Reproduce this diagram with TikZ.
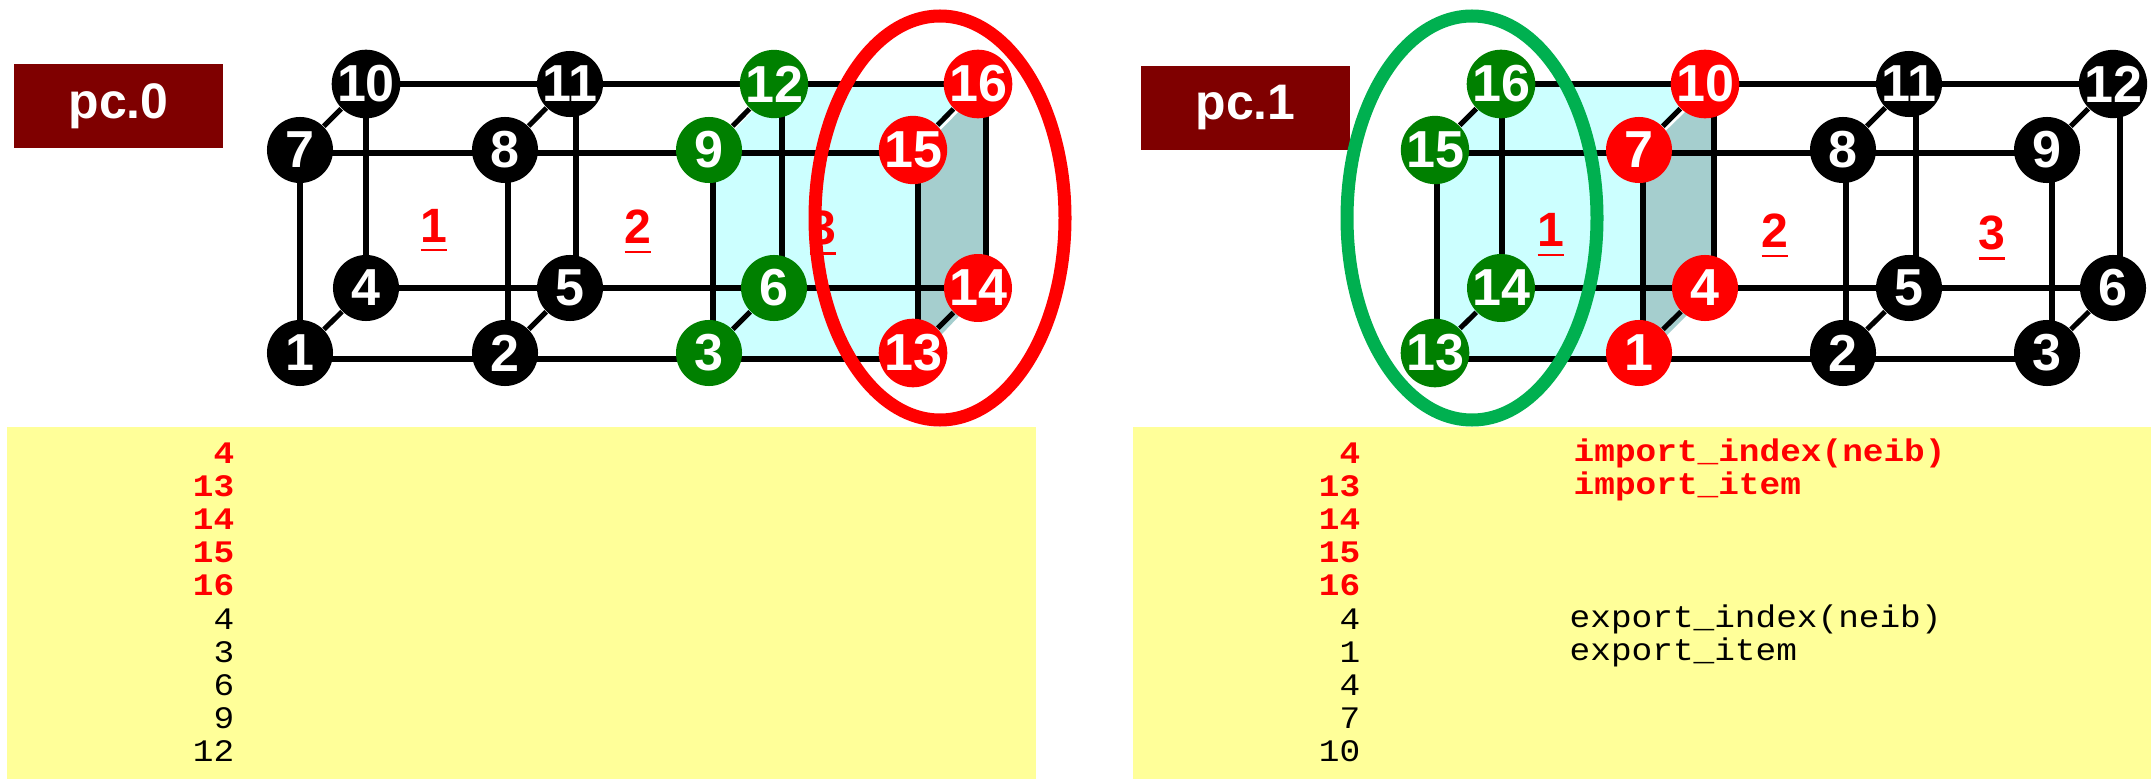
\documentclass[tikz,border=0pt]{standalone}
\usepackage{fontspec}
\setmainfont{Liberation Sans}
\newfontfamily\monofam[FakeStretch=1.10]{Liberation Mono}
\usetikzlibrary{backgrounds}
\definecolor{pcred}{HTML}{7F0000}
\definecolor{tblyel}{HTML}{FFFF99}
\definecolor{cellcy}{HTML}{CCFFFF}
\definecolor{cellgr}{HTML}{A5CECE}
\definecolor{ringgr}{HTML}{00B050}
\definecolor{ndgr}{HTML}{008000}
\newcommand{\ulnum}[1]{\vtop{\hbox{#1}\kern1.9pt\hrule height 0.7pt}}
\tikzset{
  nd/.style={circle,inner sep=0pt,minimum size=0.66cm,text=white,font=\fontsize{14.8}{15}\selectfont\bfseries},
  pc/.style={fill=pcred,text=white,inner sep=0pt,minimum width=2.09cm,minimum height=0.84cm,font=\fontsize{14.2}{15}\selectfont\bfseries},
  cellno/.style={anchor=base,inner sep=0pt,text=red,font=\fontsize{13.7}{15}\selectfont\bfseries},
  edge/.style={line width=0.06cm},
  diag/.style={line width=0.05cm},
  ring/.style={line width=0.13cm},
  tbl/.style={fill=tblyel},
  numb/.style={anchor=east,inner sep=0pt,text=red,font=\monofam\fontsize{8.9}{10}\selectfont\bfseries},
  numn/.style={anchor=east,inner sep=0pt,font=\monofam\fontsize{8.9}{10}\selectfont},
  nameb/.style={anchor=west,inner sep=0pt,text=red,font=\monofam\fontsize{8.9}{10}\selectfont\bfseries},
  namen/.style={anchor=west,inner sep=0pt,font=\monofam\fontsize{8.9}{10}\selectfont}
}
\begin{document}
\begin{tikzpicture}[x=0.01cm,y=-0.01cm]
    \useasboundingbox (0,0) rectangle (2151,779);

    % Yellow tables
    \fill[tbl] (7,427) rectangle (1036,779);
    \fill[tbl] (1133,427) rectangle (2151,779);

    % Banners
    \node[pc] (pc0) at (118.5,106) {pc.0};
    \node[pc] (pc1) at (1245.5,108) {pc.1};

    % Nodes pc.0
    \foreach \n/\x/\y/\c in {1/300/353/black, 2/505/353/black, 3/709/353/ndgr, 13/913/353/red,
                             4/366/288/black, 5/570/288/black, 6/774/288/ndgr, 14/978/288/red,
                             7/300/150/black, 8/505/150/black, 9/709/150/ndgr, 15/913/150/red,
                             10/366/84/black, 11/570/84/black, 12/774/84/ndgr, 16/978/84/red} {
        \node[nd,fill=\c] (a\n) at (\x,\y) {\n};
    }

    % Nodes pc.1
    \foreach \n/\x/\y/\c in {13/1435/353/ndgr, 1/1639/353/red, 2/1843/353/black, 3/2047/353/black,
                             14/1501/288/ndgr, 4/1705/288/red, 5/1909/288/black, 6/2113/288/black,
                             15/1435/150/ndgr, 7/1639/150/red, 8/1843/150/black, 9/2047/150/black,
                             16/1501/84/ndgr, 10/1705/84/red, 11/1909/84/black, 12/2113/84/black} {
        \node[nd,fill=\c] (b\n) at (\x,\y) {\n};
    }

    \begin{scope}[on background layer]
        % Shaded cell
        \fill[cellcy] ([shift={(3,3)}]a9.center) -- ([shift={(5,0)}]a12.center) -- (a16.center)
            -- ([shift={(5,3)}]a15.center) -- ([shift={(5,6)}]a13.center) -- ([shift={(3,6)}]a3.center) -- cycle;
        \fill[cellgr] ([shift={(5,3)}]a15.center) -- ([shift={(8,0)}]a16.center) -- ([shift={(8,0)}]a14.center)
            -- ([shift={(5,6)}]a13.center) -- cycle;
        \fill[cellcy] ([shift={(2,3)}]b15.center) -- ([shift={(1,0)}]b16.center) -- (b10.center)
            -- ([shift={(4,3)}]b7.center) -- ([shift={(4,6)}]b1.center) -- ([shift={(2,6)}]b13.center) -- cycle;
        \fill[cellgr] ([shift={(4,3)}]b7.center) -- ([shift={(9,0)}]b10.center) -- ([shift={(9,0)}]b4.center)
            -- ([shift={(4,6)}]b1.center) -- cycle;

        % Horizontal edges
        \foreach \p/\q/\r/\s/\d in {a10/a11/a12/a16/0, a7/a8/a9/a15/3, a4/a5/a6/a14/0, a1/a2/a3/a13/6,
                                    b16/b10/b11/b12/0, b15/b7/b8/b9/3, b14/b4/b5/b6/0, b13/b1/b2/b3/6} {
            \draw[edge] ([shift={(0,\d)}]\p.center) -- ([shift={(0,\d)}]\q.center)
                -- ([shift={(0,\d)}]\r.center) -- ([shift={(0,\d)}]\s.center);
        }

        % Vertical edges
        \foreach \p/\q/\d in {a7/a1/0, a10/a4/0, a8/a2/3, a11/a5/6, a9/a3/4, a12/a6/8, a15/a13/5, a16/a14/8,
                              b15/b13/2, b16/b14/1, b7/b1/4, b10/b4/9, b8/b2/3, b11/b5/7, b9/b3/5, b12/b6/7} {
            \draw[edge] ([shift={(\d,0)}]\p.center) -- ([shift={(\d,0)}]\q.center);
        }

        % Diagonal edges
        \foreach \p/\q in {a1/a4, a2/a5, a3/a6, a13/a14, a7/a10, a8/a11, a9/a12, a15/a16,
                           b13/b14, b1/b4, b2/b5, b3/b6, b15/b16, b7/b10, b8/b11, b9/b12} {
            \draw[diag] (\p) -- (\q);
        }
    \end{scope}

    % Cell numbers
    \node[cellno] (ca1) at (434,242) {\ulnum{1}};
    \node[cellno] (ca2) at (638,244) {\ulnum{2}};
    \node[cellno] (ca3) at (823,245) {\ulnum{3}};
    \node[cellno] (cb1) at (1551,247) {\ulnum{1}};
    \node[cellno] (cb2) at (1775,248) {\ulnum{2}};
    \node[cellno] (cb3) at (1992,250) {\ulnum{3}};

    % Rings
    \draw[ring,red] (940,218) ellipse (125 and 202);
    \draw[ring,ringgr] (1472,218) ellipse (125 and 202);

    % Table numbers
    \foreach \i/\y/\t in {1/453/4, 2/486/13, 3/519/14, 4/552/15, 5/585/16} {
        \node[numb] (la\i) at (235,\y) {\t};
        \node[numb] (lb\i) at (1361,\y) {\t};
    }
    \foreach \i/\y/\s/\t in {6/619/4/4, 7/652/3/1, 8/685/6/4, 9/718/9/7, 10/751/12/10} {
        \node[numn] (la\i) at (235,\y) {\s};
        \node[numn] (lb\i) at (1361,\y) {\t};
    }

    % Table names
    \node[nameb] (imp1) at (1573,453) {import\_index(neib)};
    \node[nameb] (imp2) at (1573,486) {import\_item};
    \node[namen] (exp1) at (1569,619) {export\_index(neib)};
    \node[namen] (exp2) at (1569,652) {export\_item};

\end{tikzpicture}
\end{document}
